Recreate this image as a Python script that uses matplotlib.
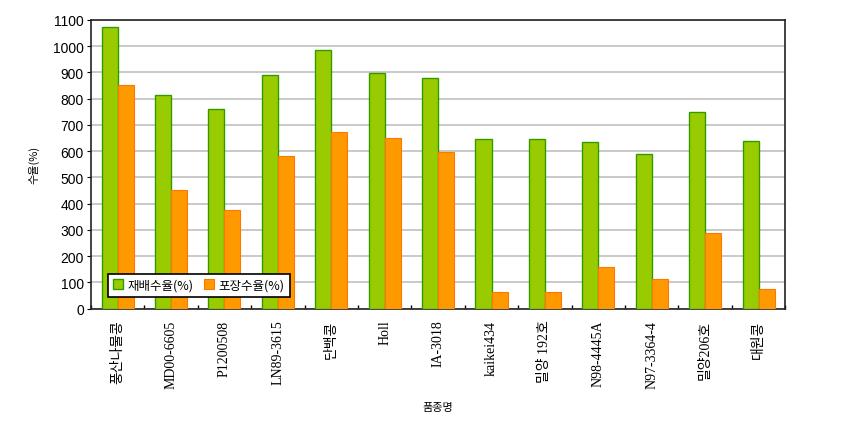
import numpy as np
import matplotlib
matplotlib.use('Agg')
import matplotlib.pyplot as plt

# 데이터
varieties = ['풍산나물콩', 'MD00-6605', 'P1200508', 'LN89-3615', '단백콩', 'Holl', 'IA-3018',
             'kaikei434', '밀양 192호', 'N98-4445A', 'N97-3364-4', '밀양206호', '대원콩']
cultivation = [1073, 814, 762, 889, 984, 899, 878, 645, 645, 635, 589, 750, 640]
field = [852, 451, 377, 583, 673, 651, 598, 64, 64, 159, 112, 287, 74]

plt.rcParams['font.family'] = ['Noto Sans CJK KR', 'DejaVu Sans']

fig = plt.figure(figsize=(8.49, 4.27), dpi=100)
ax = fig.add_axes([0.107, 0.275, 0.818, 0.676])

x = np.arange(len(varieties))
w = 0.3
ax.bar(x - w / 2, cultivation, w, color='#99CC00', edgecolor='#339900', linewidth=1,
       label='재배수율(%)', zorder=3)
ax.bar(x + w / 2, field, w, color='#FF9900', edgecolor='#FF7700', linewidth=0.8,
       label='포장수율(%)', zorder=3)

ax.set_xlim(-0.5, len(varieties) - 0.5)
ax.set_ylim(0, 1100)
ax.set_yticks(range(0, 1101, 100))
ax.yaxis.grid(True, color='#c0c0c0', linewidth=1.2, zorder=0)

ax.set_xticks(x)
ax.set_xticklabels(varieties, rotation=90, fontsize=10,
                   family=['Liberation Serif', 'Noto Sans CJK KR'])
ax.tick_params(axis='x', length=0, pad=8)
ax.set_xticks(np.arange(-0.5, len(varieties), 1), minor=True)
ax.tick_params(axis='x', which='minor', direction='in', length=3, width=1)
ax.tick_params(axis='y', direction='out', length=3, labelsize=10, pad=2)
for lab in ax.get_yticklabels():
    lab.set_family(['Liberation Sans', 'DejaVu Sans'])

for s in ax.spines.values():
    s.set_color('#222222')
    s.set_linewidth(1.2)

ax.set_ylabel('수율(%)', fontsize=8, labelpad=10)
ax.set_xlabel('품종명', fontsize=8, labelpad=10)

leg = ax.legend(loc='lower left', bbox_to_anchor=(0.015, 0.02), ncol=2, fontsize=9,
                frameon=True, fancybox=False, edgecolor='black', framealpha=1,
                handlelength=0.8, handleheight=0.8, handletextpad=0.4,
                columnspacing=0.8, borderpad=0.4)
leg.get_frame().set_linewidth(1.2)

fig.savefig('out.png', dpi=100)
